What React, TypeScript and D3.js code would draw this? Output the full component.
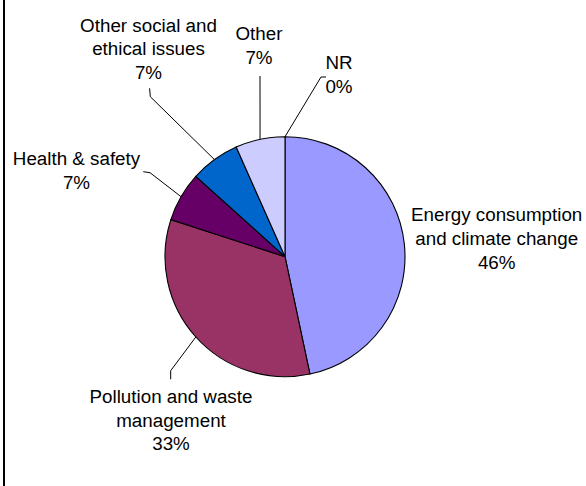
import React from "react";
import * as d3 from "d3";

// ---- data ----
const categories = [
  "Energy consumption and climate change",
  "Pollution and waste management",
  "Health & safety",
  "Other social and ethical issues",
  "Other",
  "NR",
];
const values = [14, 10, 2, 2, 2, 0];
const percentLabels = ["46%", "33%", "7%", "7%", "7%", "0%"];
const labelLines = [
  ["Energy consumption", "and climate change"],
  ["Pollution and waste", "management"],
  ["Health & safety"],
  ["Other social and", "ethical issues"],
  ["Other"],
  ["NR"],
];

// ---- layout / style ----
const W = 586;
const H = 486;
const CX = 285;
const CY = 256.7;
const R = 120;
const FONT = "'Liberation Sans', Arial, Helvetica, sans-serif";
const FS = 18.8;
const LH = 23.8;
const colors = ["#9999FF", "#993366", "#660066", "#0066CC", "#CCCCFF", "#FFFFCC"];
// label centre x and first baseline
const labelPos: [number, number][] = [
  [496.7, 221],
  [171, 402.7],
  [76.5, 164.8],
  [148.5, 31.5],
  [259, 40],
  [339, 69],
];
// leader lines: [elbow, end] or null
const leaders: ([number, number][] | null)[] = [
  null,
  [[170.7, 370.7], [170.7, 379.3]],
  [[150, 172.7], [143.3, 171.7]],
  [[150.3, 96.7], [149.6, 88.3]],
  [[260, 76]],
  [[321, 77], [326, 77]],
];

export default function App() {
  const pie = d3
    .pie<number>()
    .sort(null)
    .value((d) => d)
    .startAngle(0)
    .endAngle(2 * Math.PI);
  const arcs = pie(values);
  const arc = d3.arc<d3.PieArcDatum<number>>().innerRadius(0).outerRadius(R);

  const edge = (a: d3.PieArcDatum<number>): [number, number] => {
    const m = (a.startAngle + a.endAngle) / 2;
    return [CX + R * Math.sin(m), CY - R * Math.cos(m)];
  };

  return (
    <svg
      width={W}
      height={H}
      style={{ position: "absolute", left: 0, top: 0, background: "#fff" }}
    >
      <rect x={0} y={0} width={W} height={H} fill="#fff" />
      <line x1={4} y1={0} x2={4} y2={H} stroke="#000" strokeWidth={2} />
      <g transform={`translate(${CX},${CY})`}>
        {arcs.map((a, i) =>
          a.value > 0 ? (
            <path
              key={categories[i]}
              d={arc(a) || ""}
              fill={colors[i]}
              stroke="#000"
              strokeWidth={1.1}
            />
          ) : null
        )}
      </g>
      {arcs.map((a, i) => {
        const l = leaders[i];
        if (!l) return null;
        const pts = [edge(a), ...l];
        return (
          <path
            key={"l" + i}
            d={d3.line()(pts) || ""}
            fill="none"
            stroke="#000"
            strokeWidth={1}
          />
        );
      })}
      {categories.map((c, i) => {
        const [x, y] = labelPos[i];
        const lines = [...labelLines[i], percentLabels[i]];
        return (
          <text
            key={"t" + i}
            x={x}
            y={y}
            textAnchor="middle"
            fontFamily={FONT}
            fontSize={FS}
            fill="#000"
          >
            {lines.map((t, j) => (
              <tspan key={j} x={x} y={y + j * LH}>
                {t}
              </tspan>
            ))}
          </text>
        );
      })}
    </svg>
  );
}
